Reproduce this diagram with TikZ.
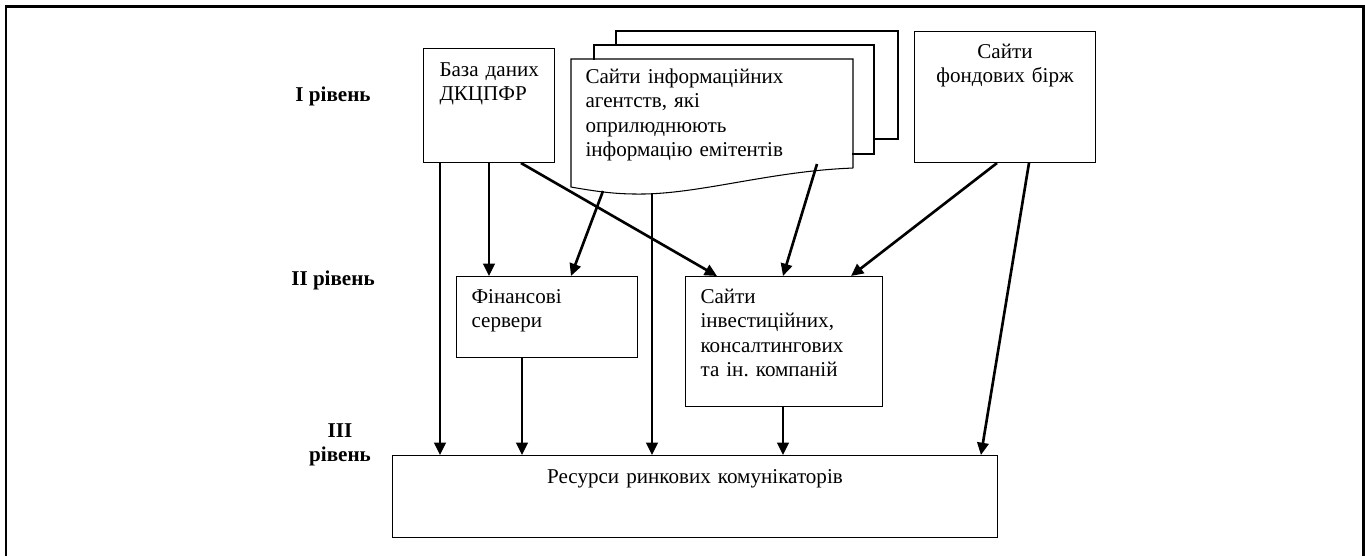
\documentclass[tikz,border=0pt]{standalone}
\usepackage{fontspec}
\setmainfont{Liberation Serif}
\usetikzlibrary{arrows.meta}

\begin{document}
\begin{tikzpicture}[
    x=0.02cm, y=-0.02cm,
    font=\fontsize{12}{13.9}\selectfont,
    box/.style={rectangle, draw, line width=0.6pt, inner ysep=0pt, anchor=north west, align=left},
    doc/.style={draw, line width=0.6pt, fill=white},
    lvl/.style={font=\fontsize{12}{13.9}\selectfont\bfseries, align=center},
    arrow/.style={-{Triangle[length=7pt,width=6.5pt]}, line width=1.5pt}
]
\useasboundingbox (0,0) rectangle (1365,556);
\draw[line width=1.7pt] (6,556) -- (6,6) -- (1363.5,6) -- (1363.5,556);

\node[lvl] (lv1) at (333,96) {I рівень};
\node[lvl] (lv2) at (333,280) {II рівень};
\node[lvl] (lv3) at (340,445) {III\\рівень};

\node[box, text width=1.98cm, inner xsep=0.32cm, text height=0.56cm, text depth=1.72cm] (bd) at (423,48) {База~даних\\ДКЦПФР};

\draw[doc] (616,31) rectangle (898,139);
\draw[doc] (594,45) rectangle (874,154);
\node[box, draw=none, fill=white, text width=5.06cm, inner xsep=0.28cm, text height=0.48cm, text depth=1.68cm] (info) at (571,59) {Сайти інформаційних\\агентств, які\\оприлюднюють\\інформацію емітентів};
\coordinate (wl) at ([yshift=-0.38cm]info.south west);
\draw[line width=0.6pt] (info.south east) -- (info.north east) -- (info.north west) -- (wl)
    .. controls +(34,6) and +(-20,0) .. ++(69,7)
    .. controls +(60,0) and +(-82,3) .. (info.south east);
\coordinate (w1) at (603,191);
\coordinate (w2) at (652,193);
\coordinate (w3) at (817,164);

\node[box, align=center, text width=3.22cm, inner xsep=0.2cm, text height=0.54cm, text depth=2.08cm] (bourse) at (914,31) {Сайти\\фондових бірж};
\node[box, text width=3.02cm, inner xsep=0.3cm, text height=0.54cm, text depth=1.08cm] (fin) at (456,276) {Фінансові\\сервери};
\node[box, text width=3.34cm, inner xsep=0.3cm, text height=0.54cm, text depth=2.06cm] (invest) at (685,276) {Сайти\\інвестиційних,\\консалтингових\\та ін.\ компаній};
\node[box, align=center, text width=11.5cm, inner xsep=0.3cm, text height=0.56cm, text depth=1.08cm] (res) at (392,455) {Ресурси ринкових комунікаторів};

\draw[arrow] ([xshift=0.34cm]bd.south west) -- ([xshift=0.34cm]bd.south west |- res.north);
\draw[arrow] ([xshift=1.32cm]bd.south west) -- ([xshift=1.32cm]bd.south west |- fin.north);
\draw[arrow] ([xshift=1.96cm]bd.south west) -- ([xshift=0.64cm]invest.north west);
\draw[arrow] (w1) -- ([xshift=2.3cm]fin.north west);
\draw[arrow] (w2) -- (w2 |- res.north);
\draw[arrow] (w3) -- ([xshift=1.96cm]invest.north west);
\draw[arrow] ([xshift=1.66cm]bourse.south west) -- ([xshift=-0.64cm]invest.north east);
\draw[arrow] ([xshift=2.3cm]bourse.south west) -- ([xshift=-0.34cm]res.north east);
\draw[arrow] ([xshift=1.32cm]fin.south west) -- ([xshift=1.32cm]fin.south west |- res.north);
\draw[arrow] ([xshift=1.96cm]invest.south west) -- ([xshift=1.96cm]invest.south west |- res.north);
\end{tikzpicture}
\end{document}
